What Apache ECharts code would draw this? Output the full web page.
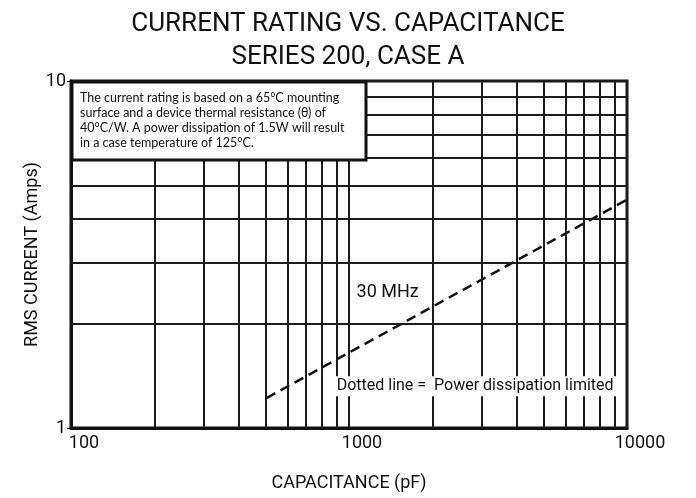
<!DOCTYPE html>
<html>
<head>
    <meta charset="UTF-8"/>
    <script type="text/javascript" src="https://cdn.jsdelivr.net/npm/echarts@6/dist/echarts.min.js"></script>
    <title>Current rating vs capacitance</title>
    <style>
        body { margin: 0; background: #fff; }
        #main { width: 696px; height: 498px; }
    </style>
</head>
<body>
<div id="main"></div>
<script type="text/javascript">
    // capacitance (pF) grid lines between the decades
    var capGrid = [200, 300, 400, 500, 600, 700, 800, 900, 2000, 3000, 4000, 5000, 6000, 7000, 8000, 9000]
    // current (A) grid lines
    var ampGrid = [2, 3, 4, 5, 6, 7, 8, 9]
    // 30 MHz power dissipation limited line
    var capacitance = [505, 10000]
    var current = [1.22, 4.55]

    var noteText = 'The current rating is based on a 65°C mounting\nsurface and a device thermal resistance (θ) of\n40°C/W. A power dissipation of 1.5W will result\nin a case temperature of 125°C.'

    var myChart = echarts.init(document.getElementById('main'))
    var gridColor = '#1c1c1c'

    var linePoints = []
    for (var i = 0; i < capacitance.length; i++) {
        linePoints.push([capacitance[i], current[i]])
    }

    var option = {
        animation: false,
        title: {
            text: 'CURRENT RATING VS. CAPACITANCE\nSERIES 200, CASE A',
            left: 'center',
            top: 3,
            textStyle: {
                fontFamily: 'Roboto',
                fontWeight: 'normal',
                fontSize: 26,
                lineHeight: 33,
                color: '#111'
            }
        },
        grid: {
            left: 71,
            right: 69,
            top: 81,
            bottom: 70,
            show: true,
            borderColor: '#111',
            borderWidth: 3
        },
        xAxis: {
            type: 'log',
            logBase: 10,
            min: 100,
            max: 10000,
            name: 'CAPACITANCE (pF)',
            nameLocation: 'middle',
            nameGap: 46,
            nameTextStyle: {fontFamily: 'Roboto', fontSize: 18, color: '#111'},
            axisLine: {lineStyle: {color: '#111', width: 3}},
            axisTick: {show: false},
            axisLabel: {
                fontFamily: 'Roboto', fontSize: 18, color: '#111',
                margin: 6,
                padding: [0, 0, 0, 26],
                formatter: function (v) { return String(Math.round(v)) }
            },
            splitLine: {show: true, lineStyle: {color: gridColor, width: 2}}
        },
        yAxis: {
            type: 'log',
            logBase: 10,
            min: 1,
            max: 10,
            name: 'RMS CURRENT (Amps)',
            nameLocation: 'middle',
            nameGap: 30,
            nameMoveOverlap: false,
            nameTextStyle: {fontFamily: 'Roboto', fontSize: 18, color: '#111'},
            axisLine: {lineStyle: {color: '#111', width: 3}},
            axisTick: {show: true, length: 4, lineStyle: {color: '#111', width: 1}},
            axisLabel: {
                fontFamily: 'Roboto', fontSize: 18, color: '#111',
                margin: 5,
                padding: [0, 0, 5, 0],
                formatter: function (v) { return String(Math.round(v)) }
            },
            splitLine: {show: true, lineStyle: {color: gridColor, width: 2}}
        },
        series: [
            {
                name: 'grid',
                type: 'line',
                data: [],
                z: 1,
                silent: true,
                markLine: {
                    silent: true,
                    symbol: ['none', 'none'],
                    label: {show: false},
                    emphasis: {disabled: true},
                    lineStyle: {color: gridColor, width: 2, type: 'solid'},
                    data: capGrid.map(function (c) { return {xAxis: c} })
                        .concat(ampGrid.map(function (a) { return {yAxis: a} }))
                }
            },
            {
                name: '30 MHz',
                type: 'line',
                data: linePoints,
                z: 3,
                symbol: 'none',
                silent: true,
                lineStyle: {color: '#111', width: 2.5, type: [10, 6]}
            }
        ]
    }
    myChart.setOption(option)

    // annotations placed from data coordinates
    var boxTL = myChart.convertToPixel({gridIndex: 0}, [100, 10])
    var mhzPos = myChart.convertToPixel({gridIndex: 0}, [1065, 2.45])
    var notePos = myChart.convertToPixel({gridIndex: 0}, [903, 1.32])

    myChart.setOption({
        graphic: [
            {
                type: 'rect',
                z: 10,
                shape: {x: boxTL[0] + 1, y: boxTL[1] + 1, width: 294, height: 78},
                style: {fill: '#fff', stroke: '#111', lineWidth: 3}
            },
            {
                type: 'text',
                z: 11,
                x: boxTL[0] + 9,
                y: boxTL[1] + 9,
                style: {
                    text: noteText,
                    font: '12.5px Lato',
                    lineHeight: 15,
                    fill: '#111'
                }
            },
            {
                type: 'text',
                z: 11,
                x: mhzPos[0],
                y: mhzPos[1],
                style: {
                    text: '30 MHz',
                    font: '18px Roboto',
                    fill: '#111',
                    verticalAlign: 'middle'
                }
            },
            {
                type: 'text',
                z: 11,
                x: notePos[0] - 3,
                y: notePos[1],
                style: {
                    text: 'Dotted line =  Power dissipation limited',
                    font: '16px Roboto',
                    fill: '#111',
                    verticalAlign: 'middle',
                    backgroundColor: '#fff',
                    padding: [2, 3]
                }
            }
        ]
    })
</script>
</body>
</html>
